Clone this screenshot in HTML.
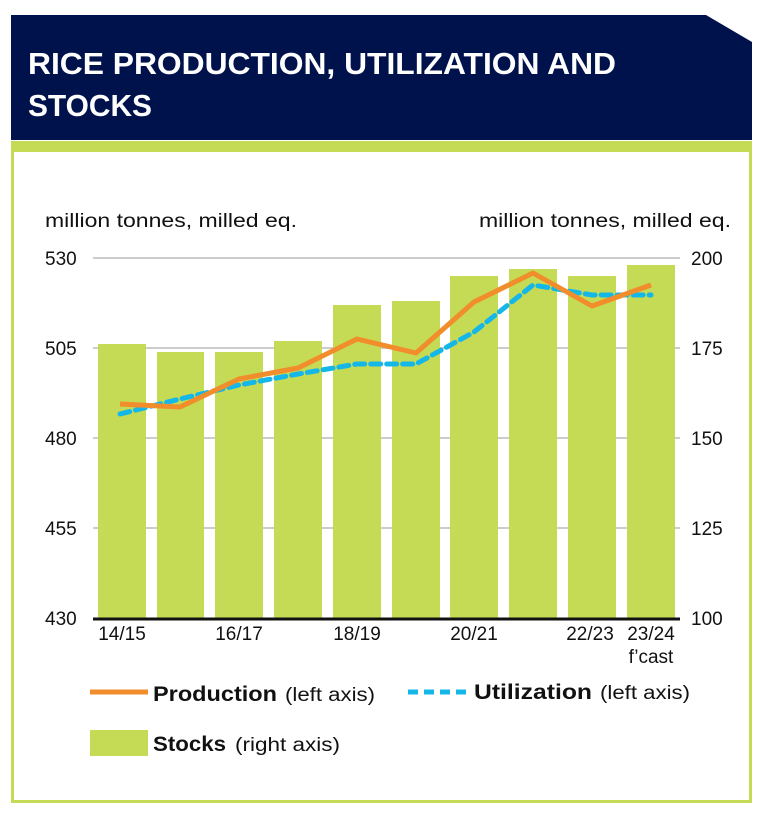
<!DOCTYPE html>
<html><head><style>
body{margin:0;width:763px;height:817px;background:#fff;font-family:"Liberation Sans",sans-serif;position:relative;overflow:hidden}
</style></head><body>
<svg width="763" height="817" style="position:absolute;left:0;top:0">
<polygon points="11,15 706,15 752,42 752,140 11,140" fill="#00124b"/>
<text x="28" y="74" fill="#fff" font-size="31" font-weight="bold" textLength="588" lengthAdjust="spacingAndGlyphs">RICE PRODUCTION, UTILIZATION AND</text>
<text x="28" y="116" fill="#fff" font-size="31" font-weight="bold" textLength="124" lengthAdjust="spacingAndGlyphs">STOCKS</text>
<rect x="11" y="141" width="741" height="11" fill="#c5da55"/>
<rect x="12.5" y="142.5" width="738" height="659" fill="none" stroke="#c5da55" stroke-width="3"/>
<g font-size="19" fill="#111">
<text x="45" y="227" textLength="252" lengthAdjust="spacingAndGlyphs">million tonnes, milled eq.</text>
<text x="479" y="227" textLength="252" lengthAdjust="spacingAndGlyphs">million tonnes, milled eq.</text>
<text x="45" y="265">530</text><text x="45" y="355">505</text><text x="45" y="445">480</text><text x="45" y="535">455</text><text x="45" y="625">430</text>
<text x="691" y="265">200</text><text x="691" y="355">175</text><text x="691" y="445">150</text><text x="691" y="535">125</text><text x="691" y="625">100</text>
</g>
<g stroke="#ccc" stroke-width="2">
<line x1="93" y1="258" x2="680" y2="258"/><line x1="93" y1="348" x2="680" y2="348"/><line x1="93" y1="438" x2="680" y2="438"/><line x1="93" y1="528" x2="680" y2="528"/>
</g>
<g fill="#c5da55">
<rect x="98" y="344" width="48" height="274"/>
<rect x="157" y="352" width="47" height="266"/>
<rect x="215" y="352" width="48" height="266"/>
<rect x="274" y="341" width="48" height="277"/>
<rect x="333" y="305" width="48" height="313"/>
<rect x="392" y="301" width="48" height="317"/>
<rect x="450" y="276" width="48" height="342"/>
<rect x="509" y="269" width="48" height="349"/>
<rect x="568" y="276" width="48" height="342"/>
<rect x="627" y="265" width="48" height="353"/>
</g>
<line x1="93" y1="619" x2="680" y2="619" stroke="#111" stroke-width="3"/>
<polyline points="120,414 180,399 239,385 298,374 357,364 416,364 474,332 533,285 592,295 651,295" fill="none" stroke="#15b7e8" stroke-width="5" stroke-dasharray="10,6" stroke-linecap="round"/>
<polyline points="120,404 180,407 239,379 298,368 357,339 416,353 474,302 533,273 592,306 651,285" fill="none" stroke="#f28d2c" stroke-width="5" stroke-linejoin="round"/>
<g font-size="19" fill="#111" text-anchor="middle">
<text x="122" y="640">14/15</text><text x="239" y="640">16/17</text><text x="357" y="640">18/19</text><text x="474" y="640">20/21</text><text x="590" y="640">22/23</text><text x="651" y="640">23/24</text><text x="651" y="663">f’cast</text>
</g>
<line x1="90" y1="692" x2="148" y2="692" stroke="#f28d2c" stroke-width="5"/>
<text x="153" y="701" font-size="21" font-weight="bold" fill="#111" textLength="124" lengthAdjust="spacingAndGlyphs">Production</text>
<text x="285" y="701" font-size="19" fill="#111" textLength="90" lengthAdjust="spacingAndGlyphs">(left axis)</text>
<line x1="408" y1="692" x2="466" y2="692" stroke="#15b7e8" stroke-width="5" stroke-dasharray="10,6"/>
<text x="474" y="699" font-size="21" font-weight="bold" fill="#111" textLength="118" lengthAdjust="spacingAndGlyphs">Utilization</text>
<text x="600" y="699" font-size="19" fill="#111" textLength="90" lengthAdjust="spacingAndGlyphs">(left axis)</text>
<rect x="90" y="730" width="58" height="26" fill="#c5da55"/>
<text x="153" y="751" font-size="21" font-weight="bold" fill="#111" textLength="73" lengthAdjust="spacingAndGlyphs">Stocks</text>
<text x="235" y="751" font-size="19" fill="#111" textLength="105" lengthAdjust="spacingAndGlyphs">(right axis)</text>
</svg>
</body></html>
